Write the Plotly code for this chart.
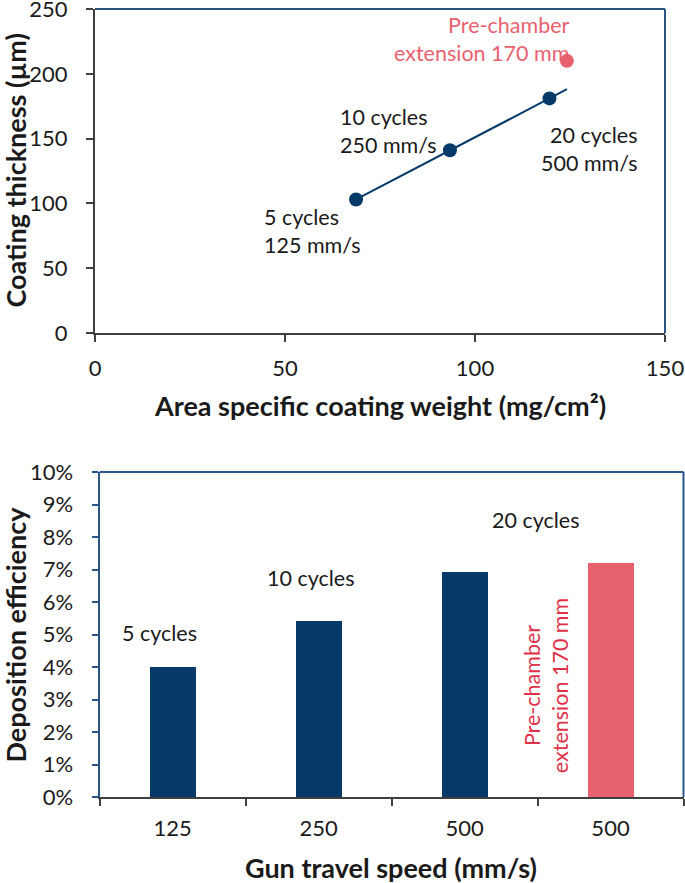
import numpy as np
import plotly.graph_objects as go

# ---------------- data ----------------
# Top chart: area specific coating weight vs coating thickness
weight_series = [68.7, 93.4, 119.6]          # mg/cm²
thickness_series = [103, 141, 181]           # µm
series_labels = ["5 cycles<br>125 mm/s", "10 cycles<br>250 mm/s", "20 cycles<br>500 mm/s"]
weight_ext = [124.2]                         # pre-chamber extension point
thickness_ext = [210]
ext_label = "Pre-chamber<br>extension 170 mm"

# Bottom chart: gun travel speed vs deposition efficiency
speed_labels = ["125", "250", "500", "500"]
efficiency = [0.040, 0.0543, 0.0693, 0.0719]
bar_labels = ["5 cycles", "10 cycles", "20 cycles"]

NAVY = "#063A69"
PINK = "#E8616F"
PINK_TEXT = "#E03048"
BORDER = "#2B5487"
GREY = "#404040"
FONT = "Lato"

W, H = 685, 883

def px(x):
    return x / W

def py(y):
    return 1 - y / H

fig = go.Figure()

# trendline through the three navy points, extended to the extension point's x
coef = np.polyfit(weight_series, thickness_series, 1)
xl = np.array([min(weight_series), weight_ext[0]])
fig.add_trace(go.Scatter(x=xl, y=np.polyval(coef, xl), mode="lines",
                         line=dict(color=NAVY, width=2), xaxis="x", yaxis="y",
                         hoverinfo="skip", showlegend=False))
fig.add_trace(go.Scatter(x=weight_series, y=thickness_series, mode="markers",
                         marker=dict(color=NAVY, size=14), xaxis="x", yaxis="y",
                         showlegend=False))
fig.add_trace(go.Scatter(x=weight_ext, y=thickness_ext, mode="markers",
                         marker=dict(color=PINK, size=14), xaxis="x", yaxis="y",
                         showlegend=False))

# bars
pos = list(range(len(speed_labels)))
fig.add_trace(go.Bar(x=pos, y=efficiency, width=0.315,
                     marker=dict(color=[NAVY, NAVY, NAVY, PINK], line=dict(width=0)),
                     xaxis="x2", yaxis="y2", showlegend=False))

tickfont = dict(family=FONT, size=22, color="#1a1a1a")

fig.update_layout(
    width=W, height=H, autosize=False,
    margin=dict(l=0, r=0, t=0, b=0, autoexpand=False),
    paper_bgcolor="white", plot_bgcolor="white",
    font=dict(family=FONT, color="#1a1a1a"),
    xaxis=dict(domain=[px(95), px(665)], anchor="y", range=[0, 150],
               tickmode="array", tickvals=[0, 50, 100, 150],
               ticks="outside", ticklen=7, tickcolor=GREY, tickwidth=2,
               showline=True, linecolor=GREY, linewidth=2, automargin=False,
               showgrid=False, zeroline=False, tickfont=tickfont,
               ticklabelstandoff=8, ticklabeloverflow="allow"),
    yaxis=dict(domain=[py(333), py(9)], anchor="x", range=[0, 250],
               tickmode="array", tickvals=[0, 50, 100, 150, 200, 250],
               ticks="outside", ticklen=7, tickcolor=GREY, tickwidth=2,
               showline=True, linecolor=GREY, linewidth=2, automargin=False,
               showgrid=False, zeroline=False, tickfont=tickfont,
               ticklabelstandoff=14, ticklabeloverflow="allow"),
    xaxis2=dict(domain=[px(99.6), px(683.5)], anchor="y2", range=[-0.5, 3.5],
                tickmode="array", tickvals=pos, ticktext=speed_labels,
                ticks="", showline=True, linecolor=GREY, linewidth=2, automargin=False,
                minor=dict(tickmode="array", tickvals=[-0.5, 0.5, 1.5, 2.5, 3.5],
                           ticks="outside", ticklen=7, tickcolor=GREY, tickwidth=2),
                showgrid=False, zeroline=False, tickfont=tickfont,
                ticklabelstandoff=11, ticklabeloverflow="allow"),
    yaxis2=dict(domain=[py(797), py(472)], anchor="x2", range=[0, 0.10],
                tickmode="array", tickvals=[i / 100 for i in range(11)],
                tickformat=".0%", automargin=False,
                ticks="outside", ticklen=6, tickcolor=BORDER, tickwidth=2,
                showline=True, linecolor=BORDER, linewidth=2,
                showgrid=False, zeroline=False, tickfont=tickfont,
                ticklabelstandoff=14, ticklabeloverflow="allow"),
    bargap=0,
)

# top/right frame lines
for xr, yr in (("x", "y"), ("x2", "y2")):
    fig.add_shape(type="line", xref=f"{xr} domain", yref=f"{yr} domain",
                  x0=0, x1=1, y0=1, y1=1, line=dict(color=BORDER, width=2))
    fig.add_shape(type="line", xref=f"{xr} domain", yref=f"{yr} domain",
                  x0=1, x1=1, y0=0, y1=1, line=dict(color=BORDER, width=2))

afont = dict(family=FONT, size=21.5, color="#1a1a1a")

# top chart labels
fig.add_annotation(x=43.9, y=78.8, xref="x", yref="y", text=series_labels[0],
                   xanchor="left", yanchor="middle", align="left", showarrow=False, font=afont)
fig.add_annotation(x=63.9, y=155.8, xref="x", yref="y", text=series_labels[1],
                   xanchor="left", yanchor="middle", align="left", showarrow=False, font=afont)
fig.add_annotation(x=143.4, y=142.3, xref="x", yref="y", text=series_labels[2],
                   xanchor="right", yanchor="middle", align="right", showarrow=False, font=afont)
fig.add_annotation(x=125.5, y=226.9, xref="x", yref="y", text=ext_label,
                   xanchor="right", yanchor="middle", align="right", showarrow=False,
                   font=dict(family=FONT, size=21.5, color=PINK))

# bottom chart labels
fig.add_annotation(x=-0.09, y=0.0505, xref="x2", yref="y2", text=bar_labels[0],
                   xanchor="center", yanchor="middle", showarrow=False, font=afont)
fig.add_annotation(x=0.95, y=0.0674, xref="x2", yref="y2", text=bar_labels[1],
                   xanchor="center", yanchor="middle", showarrow=False, font=afont)
fig.add_annotation(x=2.49, y=0.0852, xref="x2", yref="y2", text=bar_labels[2],
                   xanchor="center", yanchor="middle", showarrow=False, font=afont)
fig.add_annotation(x=2.56, y=0.0342, xref="x2", yref="y2", text=ext_label,
                   textangle=-90, xanchor="center", yanchor="middle", showarrow=False,
                   font=dict(family=FONT, size=21.5, color=PINK_TEXT))

# axis titles
tfont = dict(family=FONT, size=27, color="#1a1a1a")
fig.add_annotation(x=px(380), y=py(405), xref="paper", yref="paper",
                   xanchor="center", yanchor="middle",
                   text="<b>Area specific coating weight (mg/cm²)</b>", showarrow=False, font=tfont)
fig.add_annotation(x=px(14.5), y=py(171), xref="paper", yref="paper", textangle=-90,
                   xanchor="center", yanchor="middle",
                   text="<b>Coating thickness (µm)</b>", showarrow=False, font=tfont)
fig.add_annotation(x=px(391), y=py(867), xref="paper", yref="paper",
                   xanchor="center", yanchor="middle",
                   text="<b>Gun travel speed (mm/s)</b>", showarrow=False, font=tfont)
fig.add_annotation(x=px(14.5), y=py(635), xref="paper", yref="paper", textangle=-90,
                   xanchor="center", yanchor="middle",
                   text="<b>Deposition efficiency</b>", showarrow=False, font=tfont)

fig.write_html("out.html", config={"displayModeBar": False},
               post_script="document.body.style.margin='0';document.body.style.overflow='hidden';")
